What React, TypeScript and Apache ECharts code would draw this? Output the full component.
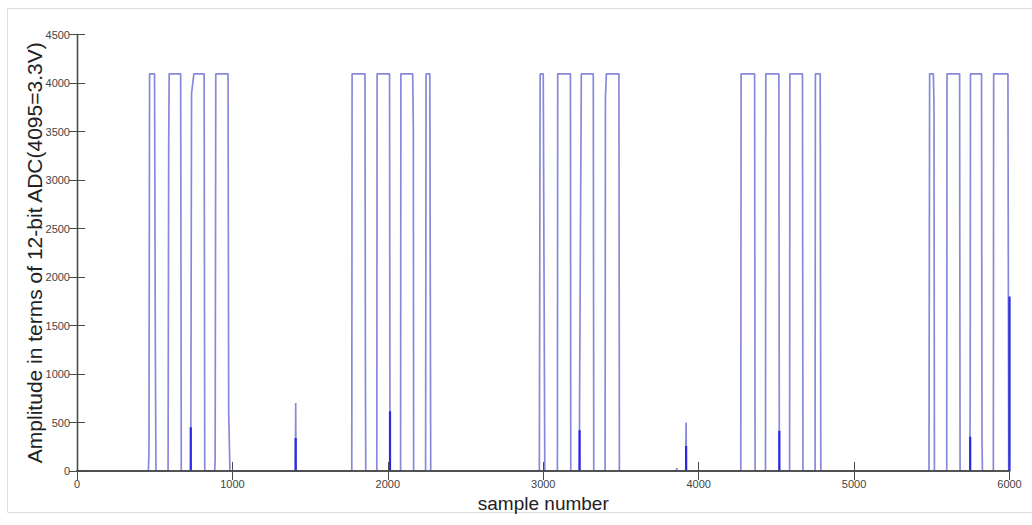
import React, { useEffect, useRef } from "react";
import * as echarts from "echarts";

// Main ADC trace (light blue), sample number vs. amplitude
const traceX = [
  0, 459, 463, 467, 499, 504, 508,
  586, 590, 593, 667, 671,
  732, 737, 752, 818, 822,
  886, 889, 893, 972, 976, 984,
  1405, 1406, 1407, 1409,
  1768, 1770, 1853, 1856, 1858,
  1929, 1931, 2011, 2014,
  2082, 2084, 2160, 2164, 2166,
  2243, 2246, 2270, 2276,
  2975, 2980, 3000, 3010,
  3091, 3093, 3175, 3177,
  3232, 3234, 3245, 3322, 3325,
  3398, 3400, 3406, 3487, 3490,
  3857, 3859, 3861,
  3917, 3919, 3921,
  4271, 4273, 4360, 4363,
  4430, 4432, 4516, 4519,
  4585, 4587, 4668, 4671,
  4749, 4751, 4782, 4786,
  5482, 5486, 5510, 5514, 5517,
  5596, 5598, 5679, 5682,
  5745, 5747, 5749, 5820, 5823, 5826,
  5896, 5898, 5990, 5995, 6000,
];
const traceY = [
  0, 0, 170, 4095, 4095, 1300, 0,
  0, 3330, 4095, 4095, 0,
  0, 3890, 4095, 4095, 0,
  0, 130, 4095, 4095, 610, 0,
  0, 170, 700, 0,
  0, 4095, 4095, 870, 0,
  0, 4095, 4095, 0,
  0, 4095, 4095, 3550, 0,
  0, 4095, 4095, 0,
  0, 4095, 4095, 0,
  0, 4095, 4095, 0,
  0, 810, 4095, 4095, 0,
  0, 3845, 4095, 4095, 0,
  0, 30, 0,
  0, 500, 0,
  0, 4095, 4095, 0,
  0, 4095, 4095, 0,
  0, 4095, 4095, 0,
  0, 4095, 4095, 0,
  0, 4095, 4095, 3800, 0,
  0, 4095, 4095, 0,
  0, 773, 4095, 4095, 320, 0,
  0, 4095, 4095, 0, 0,
];

// Dark blue spikes (sample number, peak amplitude)
const spikeX = [732, 1407, 2014, 3234, 3919, 4519, 5747, 6000];
const spikeY = [450, 340, 615, 421, 258, 414, 354, 1800];

const xTicks = { min: 0, max: 6000, interval: 1000 };
const yTicks = { min: 0, max: 4500, interval: 500 };

const xName = "sample number";
const yName = "Amplitude in terms of 12-bit ADC(4095=3.3V)";

export default function App() {
  const ref = useRef<HTMLDivElement>(null);
  useEffect(() => {
    if (!ref.current) return;
    const chart = echarts.init(ref.current, undefined, { renderer: "svg" });
    const trace = traceX.map((x, i) => [x, traceY[i]]);
    const spikes: any[] = [];
    spikeX.forEach((x, i) => {
      spikes.push([x, 0]);
      spikes.push([x, spikeY[i]]);
      spikes.push([x, "-"]);
    });
    const axisColor = "#4a4a4a";
    const font = "Liberation Sans, Arial, sans-serif";
    const plain = (v: number) => String(v);
    const baseX = {
      type: "value" as const,
      min: xTicks.min,
      max: xTicks.max,
      interval: xTicks.interval,
      z: 10,
      axisLine: { show: true, lineStyle: { color: axisColor, width: 1.6 } },
      axisTick: { show: true, inside: true, length: 9, lineStyle: { color: axisColor } },
      splitLine: { show: false },
    };
    const baseY = {
      type: "value" as const,
      min: yTicks.min,
      max: yTicks.max,
      interval: yTicks.interval,
      z: 10,
      axisLine: { show: true, lineStyle: { color: axisColor, width: 1.3 } },
      axisTick: { show: true, inside: true, length: 8, lineStyle: { color: axisColor } },
      splitLine: { show: false },
    };
    chart.setOption({
      animation: false,
      backgroundColor: "#fff",
      grid: { left: 77, right: 22.5, top: 34.5, bottom: 54, containLabel: false },
      graphic: [
        {
          type: "rect",
          shape: { x: 7.5, y: 8.5, width: 1030, height: 504 },
          style: { fill: "none", stroke: "#dedede", lineWidth: 1 },
          silent: true,
        },
      ],
      xAxis: [
        {
          ...baseX,
          position: "bottom",
          axisLabel: { color: "#444", fontSize: 11, margin: 7, fontFamily: font, formatter: plain },
          name: xName,
          nameLocation: "middle",
          nameGap: 23,
          nameMoveOverlap: false,
          nameTextStyle: { fontSize: 19, color: "#222", fontFamily: font },
        },
        {
          ...baseX,
          position: "top",
          axisLabel: { show: false },
        },
      ],
      yAxis: [
        {
          ...baseY,
          position: "left",
          axisLabel: { color: "#444", fontSize: 11, margin: 7, fontFamily: font, formatter: plain },
          name: yName,
          nameLocation: "middle",
          nameGap: 32,
          nameMoveOverlap: false,
          nameRotate: 90,
          nameTextStyle: { fontSize: 21, color: "#222", fontFamily: font },
        },
        {
          ...baseY,
          position: "right",
          axisLabel: { show: false },
        },
      ],
      series: [
        {
          type: "line",
          xAxisIndex: 0,
          yAxisIndex: 0,
          data: trace,
          showSymbol: false,
          symbol: "none",
          lineStyle: { color: "#8888da", width: 1.7 },
          z: 2,
        },
        {
          type: "line",
          xAxisIndex: 0,
          yAxisIndex: 0,
          data: spikes,
          showSymbol: false,
          symbol: "none",
          connectNulls: false,
          lineStyle: { color: "#2a2ae6", width: 2.2 },
          z: 3,
        },
      ],
    });
    return () => chart.dispose();
  }, []);
  return (
    <div
      ref={ref}
      style={{ position: "absolute", left: 0, top: 0, width: 1032, height: 525 }}
    />
  );
}
